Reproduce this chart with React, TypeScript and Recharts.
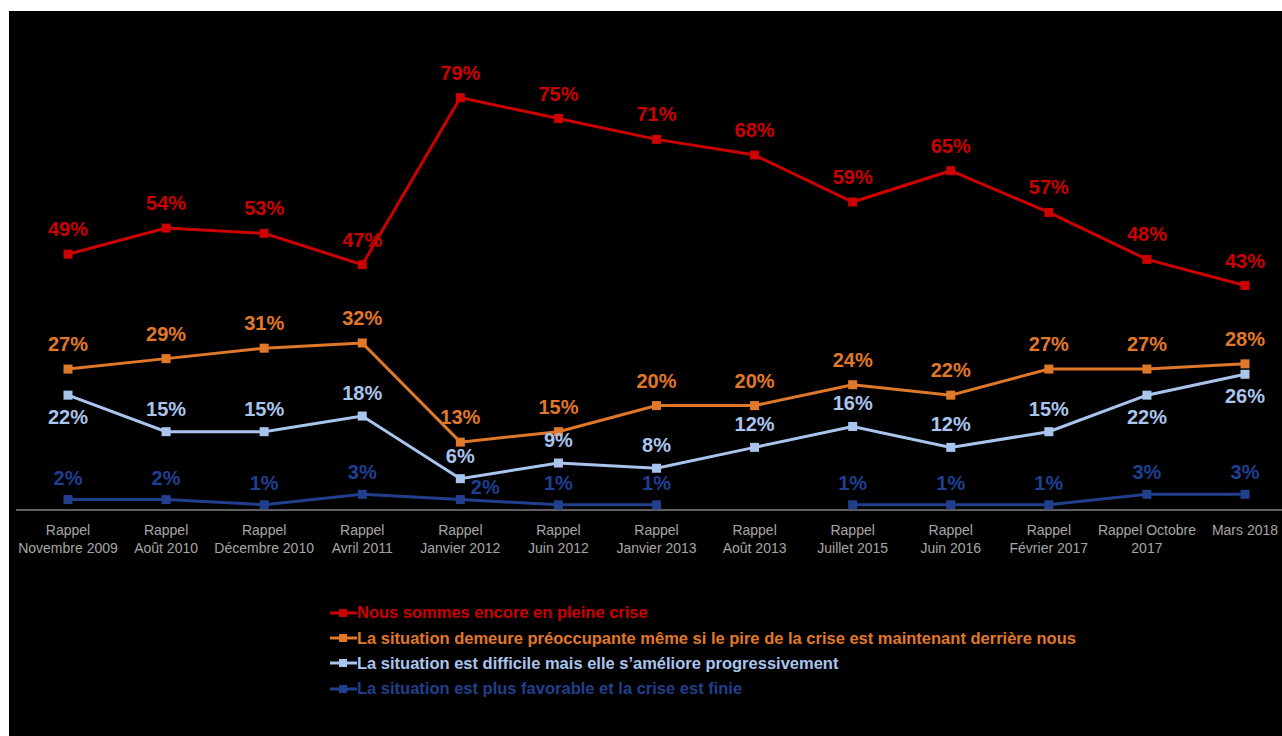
import React from 'react';
import { LineChart, Line, XAxis, YAxis, Legend, LabelList } from 'recharts';

const categories: string[] = [
  'Rappel\nNovembre 2009',
  'Rappel\nAoût 2010',
  'Rappel\nDécembre 2010',
  'Rappel\nAvril 2011',
  'Rappel\nJanvier 2012',
  'Rappel\nJuin 2012',
  'Rappel\nJanvier 2013',
  'Rappel\nAoût 2013',
  'Rappel\nJuillet 2015',
  'Rappel\nJuin 2016',
  'Rappel\nFévrier 2017',
  'Rappel Octobre\n2017',
  'Mars 2018',
];

const pleineCrise: (number | null)[] = [49, 54, 53, 47, 79, 75, 71, 68, 59, 65, 57, 48, 43];
const preoccupante: (number | null)[] = [27, 29, 31, 32, 13, 15, 20, 20, 24, 22, 27, 27, 28];
const ameliore: (number | null)[] = [22, 15, 15, 18, 6, 9, 8, 12, 16, 12, 15, 22, 26];
const finie: (number | null)[] = [2, 2, 1, 3, 2, 1, 1, null, 1, 1, 1, 3, 3];

const seriesNames: string[] = [
  'Nous sommes encore en pleine crise',
  'La situation demeure préoccupante même si le pire de la crise est maintenant derrière nous',
  "La situation est difficile mais elle s’améliore progressivement",
  'La situation est plus favorable et la crise est finie',
];
const seriesKeys = ['pleine', 'preoc', 'ameliore', 'finie'];
const seriesColors = ['#CC0000', '#E0782A', '#A9C5EE', '#203F8C'];

const data = categories.map((name, i) => ({
  name,
  pleine: pleineCrise[i],
  preoc: preoccupante[i],
  ameliore: ameliore[i],
  finie: finie[i],
}));

const FONT = "'Liberation Sans', Arial, sans-serif";

const makeDot = (color: string) => (props: any) => {
  const { cx, cy, index } = props;
  if (cx == null || cy == null || props.value == null || (Array.isArray(props.value) && props.value[1] == null)) {
    return <g key={`d-${index}`} />;
  }
  return <rect key={`d-${index}`} x={cx - 4.5} y={cy - 4.5} width={9} height={9} fill={color} />;
};

const makeLabel = (color: string, place: (i: number) => [number, number]) => (props: any) => {
  const { x, y, value, index } = props;
  if (value == null || x == null || y == null) return null;
  const [dx, dy] = place(index);
  return (
    <text
      key={`l-${index}`}
      x={x + dx}
      y={y + dy}
      textAnchor="middle"
      fill={color}
      fontSize={20}
      fontWeight="bold"
      fontFamily={FONT}
    >
      {value}%
    </text>
  );
};

const renderTick = (props: any) => {
  const { x, y, payload } = props;
  const lines = String(payload.value).split('\n');
  return (
    <text x={x} y={y} textAnchor="middle" fill="#a6a6a6" fontSize={14} fontFamily={FONT}>
      {lines.map((l, i) => (
        <tspan key={i} x={x} dy={i === 0 ? 17 : 18}>
          {l}
        </tspan>
      ))}
    </text>
  );
};

const renderLegend = () => (
  <div style={{ fontFamily: FONT, fontWeight: 'bold', fontSize: 16.5 }}>
    {seriesNames.map((n, i) => (
      <div key={i} style={{ display: 'flex', alignItems: 'center', height: 25.4, color: seriesColors[i], whiteSpace: 'nowrap' }}>
        <svg width={27} height={12} style={{ marginRight: 0 }}>
          <line x1={0} y1={6} x2={27} y2={6} stroke={seriesColors[i]} strokeWidth={3} />
          <rect x={9} y={2} width={8} height={8} fill={seriesColors[i]} />
        </svg>
        <span>{n}</span>
      </div>
    ))}
  </div>
);

const placements: ((i: number) => [number, number])[] = [
  () => [0, -18],
  () => [0, -18],
  (i) => (i === 0 || i === 11 || i === 12 ? [0, 29] : [0, -16]),
  (i) => (i === 4 ? [25, -6] : [0, -15]),
];

export default function App() {
  return (
    <div style={{ position: 'absolute', left: 9, top: 11, width: 1273, height: 725, background: '#000', overflow: 'hidden' }}>
      <LineChart
        width={1273}
        height={725}
        data={data}
        margin={{ top: 81.4, right: 0, left: 7, bottom: 166 }}
      >
        <XAxis
          dataKey="name"
          height={60}
          interval={0}
          tickLine={false}
          axisLine={{ stroke: '#bfbfbf', strokeWidth: 1 }}
          padding={{ left: 52, right: 37 }}
          tick={renderTick}
        />
        <YAxis hide domain={[0, 80]} />
        <Legend
          layout="vertical"
          align="center"
          verticalAlign="middle"
          content={renderLegend}
          wrapperStyle={{ left: 321, top: 589, width: 900 }}
        />
        {seriesKeys.map((k, si) => (
          <Line
            key={k}
            type="linear"
            dataKey={k}
            name={seriesNames[si]}
            stroke={seriesColors[si]}
            strokeWidth={3}
            dot={makeDot(seriesColors[si])}
            activeDot={false}
            isAnimationActive={false}
            connectNulls={false}
          >
            <LabelList dataKey={k} content={makeLabel(si === 3 ? '#1F3F93' : seriesColors[si], placements[si])} />
          </Line>
        ))}
      </LineChart>
    </div>
  );
}
